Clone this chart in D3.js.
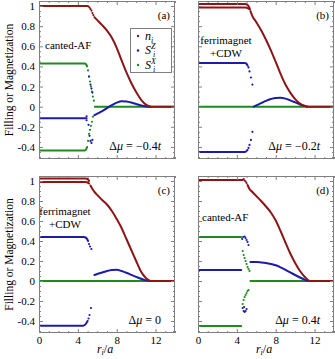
<!DOCTYPE html>
<html><head><meta charset="utf-8">
<script src="https://cdn.jsdelivr.net/npm/d3@7"></script>
<style>
html,body{margin:0;padding:0;background:#fff;}
svg{display:block;}
svg text{font-family:"Liberation Serif","DejaVu Serif",serif;}
</style></head>
<body><svg id="chart" width="335" height="359" font-family="Liberation Serif, DejaVu Serif, serif"></svg>
<script>
// ---------- axes / ticks ----------
const X_DOMAIN = [0, 14];
const Y_DOMAIN = [-0.52, 1.05];
const X_MAJOR = [0, 4, 8, 12];
const X_LABELS = ["0", "4", "8", "12"];
const Y_MAJOR = [-0.4, -0.2, 0, 0.2, 0.4, 0.6, 0.8, 1];
const Y_LABELS = ["-0.4", "-0.2", "0", "0.2", "0.4", "0.6", "0.8", "1"];

// ---------- panel (a)  Δμ = -0.4t ----------
const A_N_LINES = [
  [[0,1.0],[5.0,1.0],[5.1,0.995]],
  [[5.7,0.89],[6.0,0.86],[6.5,0.81],[7.0,0.755],[7.5,0.685],[8.0,0.585],[8.5,0.46],[9.0,0.34],[9.5,0.235],[10.0,0.145],[10.5,0.07],[11.0,0.02],[11.5,0.0],[14,0]]
];
const A_N_DOTS = [[5.2,0.985],[5.3,0.97],[5.4,0.955],[5.5,0.93],[5.6,0.91]];
const A_SZ_LINES = [
  [[0,-0.115],[4.9,-0.115]],
  [[5.7,-0.085],[6.0,-0.07],[6.5,-0.045],[7.0,-0.015],[7.5,0.015],[8.0,0.04],[8.5,0.055],[9.0,0.052],[9.5,0.042],[10.0,0.027],[10.5,0.012],[11.0,0.002],[11.5,0]]
];
const A_SZ_DOTS = [[4.9,-0.095],[4.9,-0.135],[5.15,0.30],[5.3,0.22],[5.4,0.18],[5.5,0.14],
  [5.1,-0.18],[5.2,-0.29],[5.3,-0.34],[5.4,-0.36],[5.5,-0.33]];
const A_SX_LINES = [
  [[0,0.43],[4.7,0.43],[4.85,0.42],[4.95,0.40]],
  [[0,-0.435],[4.7,-0.435],[4.85,-0.425],[4.95,-0.40]],
  [[5.75,0],[14,0]]
];
const A_SX_DOTS = [[5.05,0.36],[5.15,0.30],[5.25,0.25],[5.35,0.20],[5.45,0.15],[5.55,0.10],[5.65,0.06],
  [5.05,-0.34],[5.15,-0.27],[5.25,-0.23],[5.35,-0.19],[5.45,-0.15],[5.55,-0.10]];

// ---------- panel (b)  Δμ = -0.2t ----------
const B_N_LINES = [
  [[0,1.02],[4.9,1.02],[5.1,1.01],[5.25,0.99],[5.35,0.97]],
  [[0,0.985],[4.9,0.985],[5.1,0.98],[5.25,0.97]],
  [[5.4,0.95],[5.6,0.90],[6.0,0.84],[6.5,0.76],[7.0,0.665],[7.5,0.56],[8.0,0.445],[8.5,0.325],[9.0,0.22],[9.5,0.14],[10.0,0.075],[10.5,0.03],[11.0,0.007],[11.3,0],[14,0]]
];
const B_N_DOTS = [];
const B_SZ_LINES = [
  [[0,0.435],[4.8,0.435],[4.95,0.43],[5.1,0.41]],
  [[0,-0.45],[4.8,-0.45],[4.95,-0.445],[5.1,-0.43]],
  [[5.75,0],[6.0,0.012],[6.5,0.035],[7.0,0.058],[7.5,0.076],[8.0,0.087],[8.5,0.088],[9.0,0.08],[9.5,0.063],[10.0,0.043],[10.5,0.022],[11.0,0.006],[11.3,0]]
];
const B_SZ_DOTS = [[5.2,0.39],[5.3,0.35],[5.45,0.29],[5.6,0.22],[5.2,-0.41],[5.3,-0.38],[5.45,-0.33],[5.6,-0.25]];
const B_SX_LINES = [[[0,0],[14,0]]];
const B_SX_DOTS = [];

// ---------- panel (c)  Δμ = 0 ----------
const C_N_LINES = [
  [[0,1.025],[4.8,1.025],[5.0,1.02],[5.15,1.0]],
  [[0,0.99],[4.8,0.99],[5.0,0.985],[5.15,0.975]],
  [[5.3,0.955],[5.5,0.92],[5.8,0.88],[6.0,0.86],[6.5,0.81],[7.0,0.765],[7.5,0.70],[8.0,0.62],[8.5,0.53],[9.0,0.42],[9.5,0.31],[10.0,0.20],[10.5,0.095],[11.0,0.03],[11.5,0],[14,0]]
];
const C_N_DOTS = [];
const C_SZ_LINES = [
  [[0,0.44],[4.6,0.44],[4.8,0.435],[4.95,0.42],[5.05,0.40]],
  [[0,-0.447],[4.5,-0.447],[4.7,-0.44],[4.85,-0.425],[5.0,-0.40]],
  [[5.7,0.06],[6.0,0.07],[6.5,0.085],[7.0,0.10],[7.5,0.11],[8.0,0.113],[8.5,0.10],[9.0,0.082],[9.5,0.062],[10.0,0.042],[10.5,0.022],[11.0,0.006],[11.3,0]]
];
const C_SZ_DOTS = [[5.15,0.37],[5.25,0.345],[5.4,0.32],[5.1,-0.375],[5.2,-0.34],[5.35,-0.27]];
const C_SX_LINES = [[[0,0],[14,0]]];
const C_SX_DOTS = [];

// ---------- panel (d)  Δμ = 0.4t ----------
const D_N_LINES = [
  [[0,1.01],[4.6,1.01]],
  [[5.1,0.96],[5.3,0.92],[5.6,0.89],[6.0,0.85],[6.5,0.80],[7.0,0.745],[7.5,0.685],[8.0,0.605],[8.5,0.50],[9.0,0.385],[9.5,0.275],[10.0,0.18],[10.5,0.10],[11.0,0.04],[11.5,0],[14,0]]
];
const D_N_DOTS = [[4.7,1.02],[4.8,1.005],[4.9,0.995],[5.0,0.98]];
const D_SZ_LINES = [
  [[0,0.11],[4.45,0.11]],
  [[5.4,0.19],[6.0,0.19],[6.5,0.186],[7.0,0.18],[7.5,0.17],[8.0,0.157],[8.5,0.137],[9.0,0.112],[9.5,0.086],[10.0,0.06],[10.5,0.035],[11.0,0.012],[11.3,0]]
];
const D_SZ_DOTS = [[4.55,0.42],[4.65,0.44],[4.8,0.445],[4.9,0.43],[5.0,0.41],[5.1,0.39],[5.2,0.36],
  [4.6,-0.27],[4.7,-0.30],[4.8,-0.31],[4.9,-0.30],[5.0,-0.28],[4.75,-0.26]];
const D_SX_LINES = [
  [[0,0.44],[4.45,0.44]],
  [[0,-0.45],[4.45,-0.45]],
  [[5.4,0],[14,0]]
];
const D_SX_DOTS = [[4.6,0.30],[4.7,0.26],[4.8,0.23],[4.9,0.2],[5.0,0.17],[5.1,0.14],[5.2,0.12],[5.3,0.10],
  [4.6,-0.23],[4.7,-0.19],[4.8,-0.16],[4.9,-0.14],[5.0,-0.12],[5.1,-0.10],[5.2,-0.09]];

const PANEL_TAGS = ["(a)", "(b)", "(c)", "(d)"];
const PHASES = [["canted-AF"], ["ferrimagnet", "+CDW"], ["ferrimagnet", "+CDW"], ["canted-AF"]];
const DMU = ["\u22120.4", "\u22120.2", "0", "0.4"];

const COLORS = {n: "#8c1515", sz: "#1c1ca6", sx: "#1f8a1f"};
const FONT = "Liberation Serif, DejaVu Serif, serif";

const panels = [
  {left:39, top:1, right:175, bottom:159, yl:true, xl:false, n:[A_N_LINES,A_N_DOTS], sz:[A_SZ_LINES,A_SZ_DOTS], sx:[A_SX_LINES,A_SX_DOTS], phaseX:45, phaseY:49, phaseAnchor:"start", dmuT:true},
  {left:198, top:1, right:334, bottom:159, yl:false, xl:false, n:[B_N_LINES,B_N_DOTS], sz:[B_SZ_LINES,B_SZ_DOTS], sx:[B_SX_LINES,B_SX_DOTS], phaseX:226, phaseY:44, phaseAnchor:"middle", dmuT:true},
  {left:39, top:176, right:175, bottom:333, yl:true, xl:true, n:[C_N_LINES,C_N_DOTS], sz:[C_SZ_LINES,C_SZ_DOTS], sx:[C_SX_LINES,C_SX_DOTS], phaseX:65, phaseY:215, phaseAnchor:"middle", dmuT:false},
  {left:198, top:176, right:334, bottom:333, yl:false, xl:true, n:[D_N_LINES,D_N_DOTS], sz:[D_SZ_LINES,D_SZ_DOTS], sx:[D_SX_LINES,D_SX_DOTS], phaseX:202, phaseY:221, phaseAnchor:"start", dmuT:true}
];

const svg = d3.select("#chart");
const Y_MINOR = d3.range(-0.5, 1.051, 0.05).map(v => Math.round(v*100)/100).filter(v => !Y_MAJOR.includes(v));
const X_MINOR = d3.range(0, 14.01, 1).filter(v => !X_MAJOR.includes(v));
const TICK = "#808080";

panels.forEach((p, i) => {
  const w = p.right - p.left, h = p.bottom - p.top;
  const g = svg.append("g").attr("transform", `translate(${p.left},${p.top})`);
  const x = d3.scaleLinear().domain(X_DOMAIN).range([0, w]);
  const y = d3.scaleLinear().domain(Y_DOMAIN).range([h, 0]);
  const clipId = "clip" + i;
  g.append("clipPath").attr("id", clipId).append("rect").attr("width", w).attr("height", h);
  const plot = g.append("g").attr("clip-path", `url(#${clipId})`);
  const line = d3.line().x(d => x(d[0])).y(d => y(d[1])).curve(d3.curveMonotoneX);
  [["sx", p.sx], ["sz", p.sz], ["n", p.n]].forEach(([k, [lines, dots]]) => {
    plot.selectAll(null).data(lines).join("path")
      .attr("d", line).attr("fill", "none").attr("stroke", COLORS[k])
      .attr("stroke-width", 2).attr("stroke-linecap", "round").attr("stroke-linejoin", "round");
    plot.selectAll(null).data(dots).join("circle")
      .attr("cx", d => x(d[0])).attr("cy", d => y(d[1])).attr("r", 1.1).attr("fill", COLORS[k]);
  });

  // axes
  const styleAxis = s => { s.attr("font-family", FONT); s.select(".domain").remove(); s.selectAll(".tick line").attr("stroke", TICK); s.selectAll("text").attr("fill", "#000").attr("font-size", 11).attr("font-family", FONT); };
  g.append("g").call(d3.axisLeft(y).tickValues(Y_MAJOR).tickSize(-4).tickPadding(4)
    .tickFormat((d, j) => p.yl ? Y_LABELS[j] : "")).call(styleAxis);
  g.append("g").call(d3.axisLeft(y).tickValues(Y_MINOR).tickSize(-2).tickFormat("")).call(styleAxis);
  g.append("g").attr("transform", `translate(${w},0)`).call(d3.axisRight(y).tickValues(Y_MAJOR).tickSize(-4).tickFormat("")).call(styleAxis);
  g.append("g").attr("transform", `translate(${w},0)`).call(d3.axisRight(y).tickValues(Y_MINOR).tickSize(-2).tickFormat("")).call(styleAxis);
  g.append("g").attr("transform", `translate(0,${h})`).call(d3.axisBottom(x).tickValues(X_MAJOR).tickSize(-4).tickPadding(3)
    .tickFormat((d, j) => p.xl ? X_LABELS[j] : "")).call(styleAxis);
  g.append("g").attr("transform", `translate(0,${h})`).call(d3.axisBottom(x).tickValues(X_MINOR).tickSize(-2).tickFormat("")).call(styleAxis);
  g.append("g").call(d3.axisTop(x).tickValues(X_MAJOR).tickSize(-4).tickFormat("")).call(styleAxis);
  g.append("g").call(d3.axisTop(x).tickValues(X_MINOR).tickSize(-2).tickFormat("")).call(styleAxis);
  g.append("rect").attr("x", 0.5).attr("y", 0.5).attr("width", w - 1).attr("height", h - 1)
    .attr("fill", "none").attr("stroke", TICK).attr("stroke-width", 1);

  // panel tag
  g.append("text").attr("x", w - 5).attr("y", 18).attr("text-anchor", "end").attr("font-size", 11).attr("font-family", FONT).text(PANEL_TAGS[i]);
  // phase label
  const ph = svg.append("text").attr("font-size", 11).attr("font-family", FONT).attr("text-anchor", p.phaseAnchor);
  PHASES[i].forEach((t, j) => ph.append("tspan").attr("x", p.phaseX).attr("y", p.phaseY + j * 13).text(t));
  // Δμ label
  const dt = g.append("text").attr("x", w - 14).attr("y", h - 9).attr("text-anchor", "end").attr("font-size", 12).attr("font-family", FONT);
  dt.append("tspan").text("\u0394");
  dt.append("tspan").attr("font-style", "italic").text("\u03bc");
  dt.append("tspan").text(" = " + DMU[i]);
  if (p.dmuT) dt.append("tspan").attr("font-style", "italic").text("t");

  // x title
  if (p.xl) {
    const xt = svg.append("text").attr("x", p.left + w / 2 - 2).attr("y", 353).attr("text-anchor", "middle").attr("font-size", 12).attr("font-family", FONT);
    xt.append("tspan").attr("font-style", "italic").text("r");
    xt.append("tspan").attr("font-size", 8).attr("font-style", "italic").attr("dy", 2).text("i");
    xt.append("tspan").attr("dy", -2).text("/");
    xt.append("tspan").attr("font-style", "italic").text("a");
  }
  // y title
  if (p.yl) {
    svg.append("text").attr("transform", `translate(13,${p.top + h / 2}) rotate(-90)`)
      .attr("text-anchor", "middle").attr("font-size", 11.5).attr("font-family", FONT).text("Filling or Magnetization");
  }
});

// legend in panel (a)
const lg = svg.append("g").attr("font-family", FONT);
lg.append("rect").attr("x", 130.5).attr("y", 28.5).attr("width", 41).attr("height", 44)
  .attr("fill", "#fff").attr("stroke", TICK);
const LEGEND = [["n", "", "i", COLORS.n], ["S", "Z", "i", COLORS.sz], ["S", "X", "i", COLORS.sx]];
LEGEND.forEach(([b, sup, sub, c], j) => {
  const yy = 36 + j * 14.5;
  lg.append("circle").attr("cx", 138).attr("cy", yy).attr("r", 1.2).attr("fill", c);
  const t = lg.append("text").attr("x", 145).attr("y", yy + 3.5).attr("font-size", 12).attr("font-style", "italic");
  t.append("tspan").text(b);
  if (sup) {
    t.append("tspan").attr("font-size", 8).attr("dy", -5).text(sup);
    t.append("tspan").attr("font-size", 8).attr("x", 153).attr("dy", 8).text(sub);
  } else {
    t.append("tspan").attr("font-size", 8).attr("dy", 3).text(sub);
  }
});
</script></body></html>
